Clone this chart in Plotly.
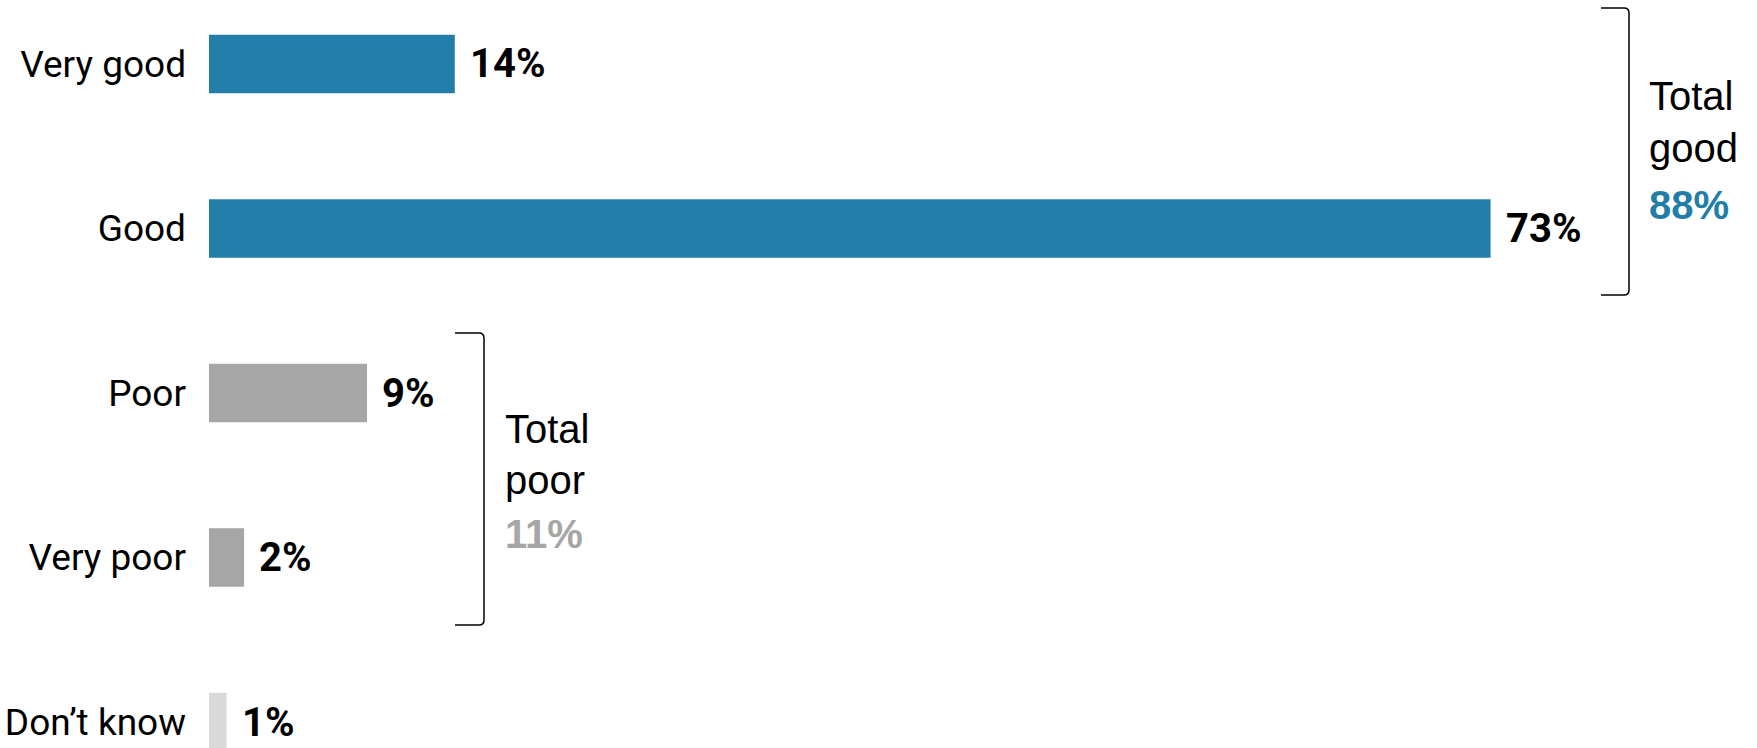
import plotly.graph_objects as go

categories = ["Very good", "Good", "Poor", "Very poor", "Don’t know"]
values = [14, 73, 9, 2, 1]
bar_colors = ["#227ea8", "#227ea8", "#a6a6a6", "#a6a6a6", "#d9d9d9"]
value_labels = ["14%", "73%", "9%", "2%", "1%"]

group_titles = [["Total", "good"], ["Total", "poor"]]
group_totals = ["88%", "11%"]
group_colors = ["#227ea8", "#a6a6a6"]

W_PAGE, H_PAGE = 1757, 748
L = 209
PW = W_PAGE - L


def px(x):
    return (x - L) / PW


def py(y):
    return 1 - y / H_PAGE


fig = go.Figure()
fig.add_trace(go.Bar(
    y=categories, x=values, orientation="h",
    marker=dict(color=bar_colors, line=dict(width=0)),
    width=0.356, hoverinfo="skip",
))

for c, v, t in zip(categories, values, value_labels):
    fig.add_annotation(x=v, y=c, xref="x", yref="y", text=t, showarrow=False,
                       xanchor="left", yanchor="middle", xshift=13,
                       font=dict(family="Roboto", size=40, color="#000000", weight="bold"))

# group text blocks
blocks = [
    dict(x=1647, baselines=[110, 162, 219]),
    dict(x=503, baselines=[443, 494, 548]),
]
fs = 40
for b, title, tot, col in zip(blocks, group_titles, group_totals, group_colors):
    texts = title + [tot]
    colors = ["#000000", "#000000", col]
    weights = ["normal", "normal", "bold"]
    for t, bl, cc, w in zip(texts, b["baselines"], colors, weights):
        fig.add_annotation(x=px(b["x"]), y=py(bl - 0.36 * fs), xref="paper", yref="paper",
                           text=t, showarrow=False, xanchor="left", yanchor="middle",
                           font=dict(family="Liberation Sans, Arial", size=fs, color=cc, weight=w))


def bracket(xv, ytop, ybot, xl):
    r = 5
    return (f"M {px(xl)},{py(ytop)} L {px(xv - r)},{py(ytop)} Q {px(xv)},{py(ytop)} {px(xv)},{py(ytop + r)} "
            f"L {px(xv)},{py(ybot - r)} Q {px(xv)},{py(ybot)} {px(xv - r)},{py(ybot)} L {px(xl)},{py(ybot)}")


fig.add_shape(type="path", xref="paper", yref="paper", path=bracket(1629, 8, 295, 1601),
              line=dict(color="#000000", width=1.5))
fig.add_shape(type="path", xref="paper", yref="paper", path=bracket(484, 333, 625, 455),
              line=dict(color="#000000", width=1.5))

fig.update_layout(
    width=W_PAGE, height=H_PAGE, autosize=False,
    margin=dict(l=L, r=0, t=0, b=0, pad=0),
    plot_bgcolor="white", paper_bgcolor="white",
    showlegend=False,
    xaxis=dict(range=[0, PW / 17.556], visible=False, showgrid=False, zeroline=False),
    yaxis=dict(type="category", categoryorder="array", categoryarray=categories,
               range=[4.158, -0.389], showgrid=False, zeroline=False, showline=False,
               ticks="", ticklabelstandoff=22,
               tickfont=dict(family="Roboto", size=37, color="#000000")),
)

fig.write_html("out.html", config={"displayModeBar": False},
               post_script="document.body.style.margin='0';document.body.style.overflow='hidden';")
